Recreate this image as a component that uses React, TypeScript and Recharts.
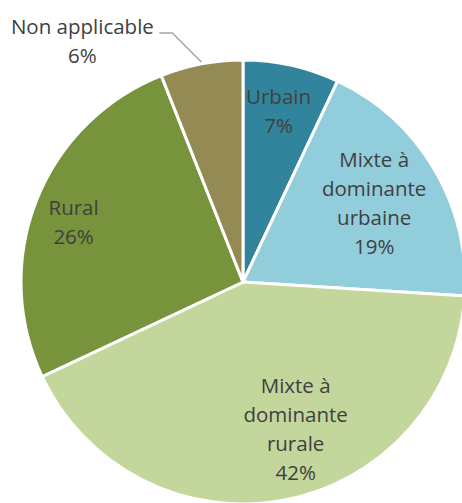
import { PieChart, Pie, Cell } from "recharts"

const categories = ["Urbain", "Mixte à dominante urbaine", "Mixte à dominante rurale", "Rural", "Non applicable"]
const shares = [7, 19, 42, 26, 6]
const labelLines = [["Urbain"], ["Mixte à", "dominante", "urbaine"], ["Mixte à", "dominante", "rurale"], ["Rural"], ["Non applicable"]]
const colors = ["#31849B", "#92CDDC", "#C3D69B", "#77933C", "#948A54"]

const data = categories.map((name, i) => ({ name, value: shares[i] }))

// per-slice label placement: angle nudge (deg, clockwise) and radius factor
const placement = [
  { da: -0.9, rf: 0.79 },
  { da: -0.5, rf: 0.69 },
  { da: -9, rf: 0.7 },
  { da: -2, rf: 0.81 },
]

const RAD = Math.PI / 180
const LINE_H = 29

function renderLabel(props: any) {
  const { cx, cy, midAngle, outerRadius, index } = props
  const lines = [...labelLines[index], `${shares[index]}%`]
  if (index === 4) {
    const ex = cx + Math.cos(-midAngle * RAD) * outerRadius
    const ey = cy + Math.sin(-midAngle * RAD) * outerRadius
    const kx = ex - 29
    const ky = ey - 31
    const lx = kx - 13
    const tx = lx - 77
    return (
      <g>
        <polyline points={`${ex},${ey - 2} ${kx},${ky} ${lx},${ky}`} fill="none" stroke="#a6a6a6" strokeWidth={1.5} />
        <text x={tx} y={ky - 7} textAnchor="middle" fill="#404040" fontSize={20.5} fontFamily="Open Sans">
          {lines.map((l, i) => (
            <tspan key={i} x={tx} y={ky - 7 + i * LINE_H} dominantBaseline="central">{l}</tspan>
          ))}
        </text>
      </g>
    )
  }
  const p = placement[index]
  const ang = midAngle - p.da
  const r = outerRadius * p.rf
  const x = cx + Math.cos(-ang * RAD) * r
  const y = cy + Math.sin(-ang * RAD) * r
  const top = y - ((lines.length - 1) * LINE_H) / 2
  return (
    <text x={x} y={top} textAnchor="middle" fill="#404040" fontSize={20.5} fontFamily="Open Sans">
      {lines.map((l, i) => (
        <tspan key={i} x={x} y={top + i * LINE_H} dominantBaseline="central">{l}</tspan>
      ))}
    </text>
  )
}

export default function App() {
  return (
    <div style={{ position: "fixed", left: 0, top: 0, width: 462, height: 503, background: "#fff", overflow: "hidden" }}>
      <PieChart width={462} height={503}>
        <Pie
          data={data}
          dataKey="value"
          nameKey="name"
          cx={238}
          cy={277}
          outerRadius={222}
          startAngle={90}
          endAngle={-270}
          stroke="#fff"
          strokeWidth={3}
          label={renderLabel}
          labelLine={false}
          isAnimationActive={false}
        >
          {data.map((d, i) => (
            <Cell key={d.name} fill={colors[i]} />
          ))}
        </Pie>
      </PieChart>
    </div>
  )
}
